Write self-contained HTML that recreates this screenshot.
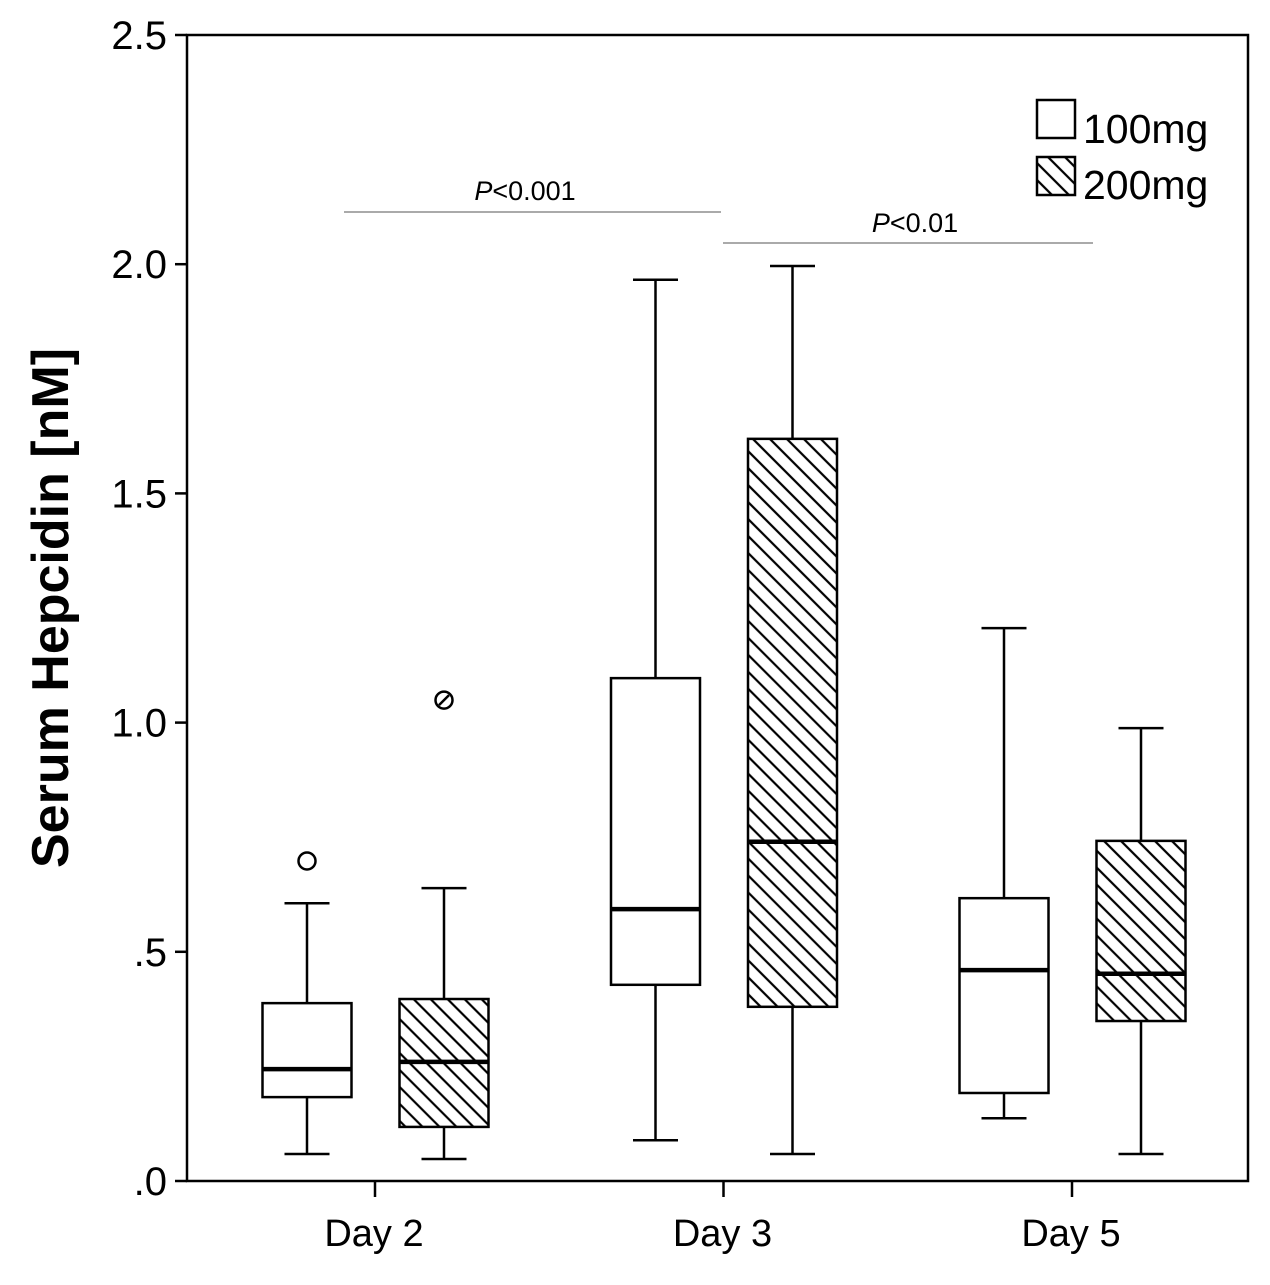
<!DOCTYPE html>
<html><head><meta charset="utf-8"><style>
body{margin:0;background:#fff;}
svg text{font-family:"Liberation Sans",sans-serif;fill:#000;}
</style></head><body>
<svg width="1270" height="1280" viewBox="0 0 1270 1280">
<defs>
<pattern id="hatch" patternUnits="userSpaceOnUse" width="12" height="12" patternTransform="rotate(-45)">
<line x1="0" y1="0" x2="0" y2="12" stroke="#000" stroke-width="2.2" transform="translate(6,0)"/>
</pattern>
</defs>
<rect x="187" y="35" width="1061" height="1146" fill="none" stroke="#000" stroke-width="2.5"/>
<g id="yaxis"></g>
<g id="xaxis"></g>
<g id="boxes"></g>
<text transform="translate(68,608) rotate(-90)" text-anchor="middle" font-size="52" font-weight="bold">Serum Hepcidin [nM]</text>
<line x1="344" y1="212" x2="721" y2="212" stroke="#777" stroke-width="1.3"/>
<text x="525" y="200" text-anchor="middle" font-size="27"><tspan font-style="italic">P</tspan>&lt;0.001</text>
<line x1="723" y1="243" x2="1093" y2="243" stroke="#777" stroke-width="1.3"/>
<text x="915" y="232" text-anchor="middle" font-size="27"><tspan font-style="italic">P</tspan>&lt;0.01</text>
<g>
<rect x="1037" y="100" width="38" height="38" fill="#fff" stroke="#000" stroke-width="2.5"/>
<text x="1083" y="143" font-size="41">100mg</text>
<rect x="1037" y="157" width="38" height="38" fill="url(#hatch)" stroke="#000" stroke-width="2.5"/>
<text x="1083" y="199" font-size="41">200mg</text>
</g>
</svg>
<script>
const categories=["Day 2","Day 3","Day 5"];
const yTicks=[0,0.5,1.0,1.5,2.0,2.5];
const yTickLabels=[".0",".5","1.0","1.5","2.0","2.5"];
// [low, q1, median, q3, high]
const series100=[[0.059,0.183,0.244,0.388,0.606],[0.089,0.428,0.593,1.097,1.966],[0.137,0.192,0.46,0.617,1.206]];
const series200=[[0.048,0.118,0.26,0.397,0.639],[0.059,0.38,0.74,1.619,1.996],[0.059,0.349,0.452,0.742,0.988]];
const outliers100=[[0.698],[],[]];
const outliers200=[[1.049],[],[]];
const NS="http://www.w3.org/2000/svg";
const y=v=>1181-v*458.4;
const x=i=>375+i*348.5;
function mk(tag,attrs,parent){const e=document.createElementNS(NS,tag);for(const k in attrs)e.setAttribute(k,attrs[k]);parent.appendChild(e);return e;}
const ya=document.getElementById('yaxis');
yTicks.forEach((t,i)=>{
 const l=mk('line',{x1:175,x2:187,y1:y(t),y2:y(t),stroke:'#000','stroke-width':2.5},ya);
 
 
 const tx=mk('text',{x:167,y:y(t)+14,'text-anchor':'end','font-size':40},ya);
 tx.textContent=yTickLabels[i];
 
 
});
const xa=document.getElementById('xaxis');
categories.forEach((c,i)=>{
 const l=mk('line',{x1:x(i),x2:x(i),y1:1181,y2:1197,stroke:'#000','stroke-width':2.5},xa);
 
 
 const tx=mk('text',{x:x(i)-1,y:1246,'text-anchor':'middle','font-size':38},xa);
 tx.textContent=c;
 
 
});
const bg=document.getElementById('boxes');
function box(cx,d,fill,outs,name){
 const g=mk('g',{},bg);
 
 
 const [lo,q1,md,q3,hi]=d, w=89, cw=45, s={stroke:'#000','stroke-width':2.5};
 mk('line',{x1:cx,x2:cx,y1:y(hi),y2:y(q3),...s},g);
 mk('line',{x1:cx,x2:cx,y1:y(q1),y2:y(lo),...s},g);
 mk('line',{x1:cx-cw/2,x2:cx+cw/2,y1:y(hi),y2:y(hi),...s},g);
 mk('line',{x1:cx-cw/2,x2:cx+cw/2,y1:y(lo),y2:y(lo),...s},g);
 mk('rect',{x:cx-w/2,y:y(q3),width:w,height:y(q1)-y(q3),fill:fill,...s},g);
 mk('line',{x1:cx-w/2,x2:cx+w/2,y1:y(md),y2:y(md),stroke:'#000','stroke-width':4.5},g);
 outs.forEach(o=>{
  const c=mk('circle',{cx:cx,cy:y(o),r:8.5,fill:'#fff',...s},g);
  
  
  if(fill!=='#fff') mk('line',{x1:cx-5,y1:y(o)+5,x2:cx+5,y2:y(o)-5,stroke:'#000','stroke-width':2.5},g);
 });
}
categories.forEach((c,i)=>{
 box(x(i)-68,series100[i],'#fff',outliers100[i],'box-100mg');
 box(x(i)+69,series200[i],'url(#hatch)',outliers200[i],'box-200mg');
});
</script>
</body></html>
